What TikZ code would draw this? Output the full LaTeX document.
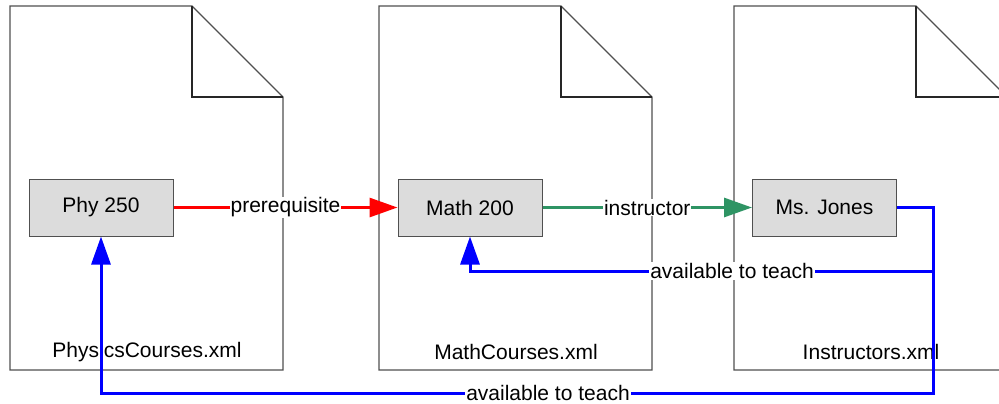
\documentclass[tikz,border=0pt]{standalone}
\usepackage{fontspec}
\setmainfont{Liberation Sans}
\usetikzlibrary{arrows.meta}
\definecolor{docline}{RGB}{80,80,80}
\definecolor{boxfill}{RGB}{220,220,220}
\definecolor{edgegreen}{RGB}{46,148,100}
\tikzset{
  doc/.style={draw=docline, line width=1.2pt, fill=white},
  fold/.style={draw=black!85, line width=1.1pt},
  record/.style={draw=docline, line width=1pt, fill=boxfill, minimum width=144pt, minimum height=57pt, inner sep=0pt, font=\fontsize{21}{25}\selectfont},
  doclabel/.style={inner sep=0pt, font=\fontsize{21}{25}\selectfont},
  elabel/.style={fill=white, inner sep=1pt, font=\fontsize{21}{25}\selectfont},
  edge/.style={line width=3pt, -{Triangle[length=28pt,width=19pt]}},
}
\begin{document}
\begin{tikzpicture}[x=1pt,y=-1pt]
\useasboundingbox (0,0) rectangle (999,404);
\begin{scope}
\clip (0,0) rectangle (999,404);
% documents
\foreach \l/\f in {10/192, 379/561, 734/916}{
  \pgfmathsetmacro{\r}{\f+91}
  \draw[doc] (\l,6) -- (\f,6) -- (\r,97) -- (\r,370) -- (\l,370) -- cycle;
  \draw[fold] (\f,6) -- (\f,97) -- (\r,97);
}
\end{scope}
\node[doclabel] (lphys) at (147,352) {PhysicsCourses.xml};
\node[doclabel] (lmath) at (516,352) {MathCourses.xml};
\node[doclabel] (linst) at (871,352) {Instructors.xml};
% records
\node[record] (phy) at (101,207.5) {Phy 250};
\node[record] (math) at (470,207.5) {Math 200};
\node[record] (jones) at (824.5,207.5) {Ms. Jones};
% edges
\draw[edge, red] (phy.east) -- node[elabel, text=black] {prerequisite} (math.west);
\draw[edge, edgegreen] (math.east) -- node[elabel, text=black] {instructor} (jones.west);
\coordinate (c1) at (933,207.5);
\coordinate (c2) at (933,271);
\coordinate (c3) at (933,393);
\draw[edge, blue] (jones.east) -- (c1) -- (c2) -- (math.south |- c2) -- (math.south);
\draw[edge, blue] (jones.east) -- (c1) -- (c3) -- (phy.south |- c3) -- (phy.south);
\node[elabel] (avail1) at (732,271) {available to teach};
\node[elabel] (avail2) at (548,393) {available to teach};
\end{tikzpicture}
\end{document}
